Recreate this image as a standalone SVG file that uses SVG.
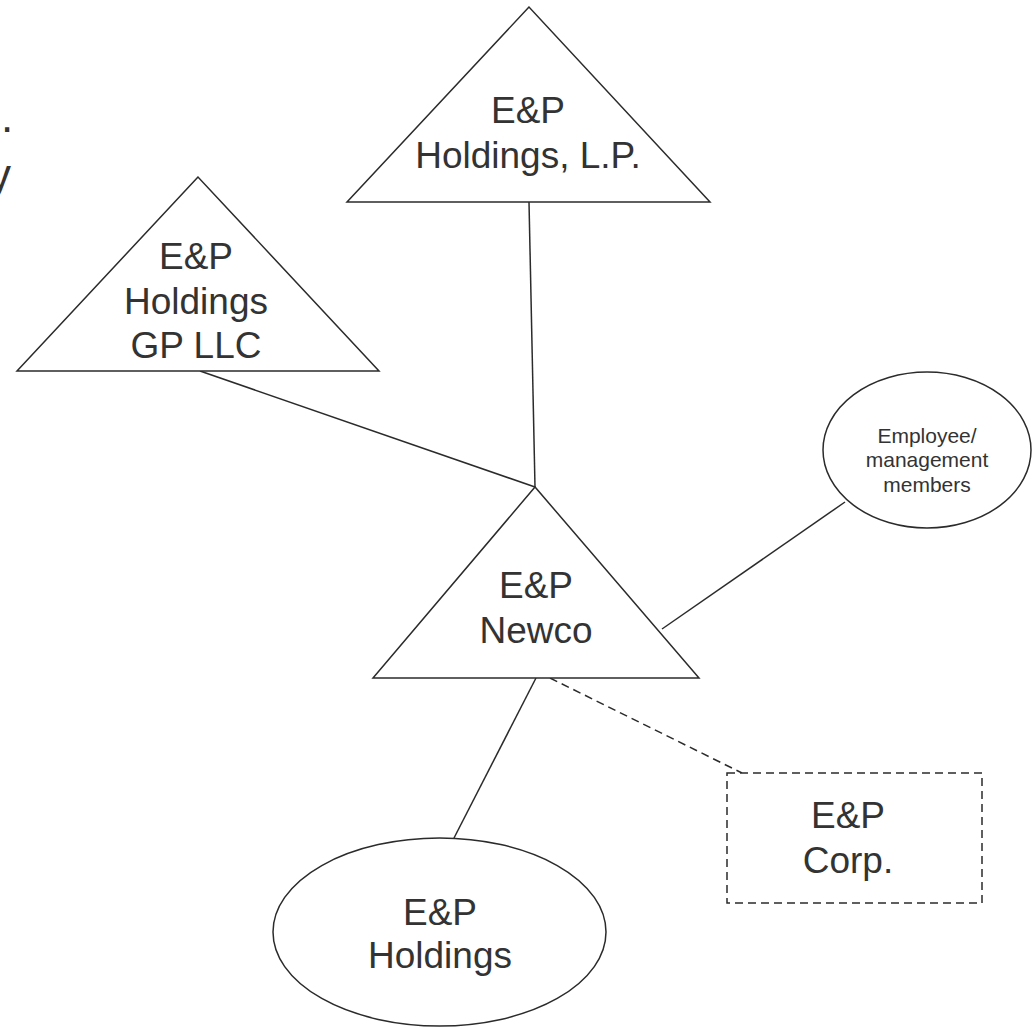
<svg xmlns="http://www.w3.org/2000/svg" width="1033" height="1028" viewBox="0 0 1033 1028">
  <style>
    .shape { fill: #ffffff; stroke: #2b2b2b; stroke-width: 1.5; }
    .dashed { stroke-dasharray: 8 5; }
    .link { fill: none; stroke: #2b2b2b; stroke-width: 1.5; }
    .label { font-family: "Liberation Sans", Arial, sans-serif; font-size: 37px; fill: #333333; text-anchor: middle; }
    .small { font-size: 21px; }
    .edge-text { font-family: "Liberation Sans", Arial, sans-serif; font-size: 44px; fill: #333333; }
  </style>
  <rect x="0" y="0" width="1033" height="1028" fill="#ffffff"/>

  <!-- title fragments running off the left edge -->
  <g id="title-fragment">
    <text class="edge-text" x="1" y="132">.</text>
    <text class="edge-text" x="11" y="190" text-anchor="end">y</text>
  </g>

  <!-- connectors -->
  <g id="connectors">
    <line class="link" x1="529" y1="202" x2="535" y2="487"/>
    <line class="link" x1="200" y1="371" x2="535" y2="487"/>
    <line class="link" x1="845" y1="502" x2="662" y2="629"/>
    <line class="link" x1="536" y1="678" x2="454" y2="838"/>
    <line class="link dashed" x1="550" y1="678" x2="742" y2="773"/>
  </g>

  <g id="node-holdings-lp">
    <polygon class="shape" points="529,7 347,202 710,202"/>
    <text class="label" x="528" y="123">E&amp;P</text>
    <text class="label" x="528" y="168">Holdings, L.P.</text>
  </g>

  <g id="node-holdings-gp">
    <polygon class="shape" points="198,177 17,371 379,371"/>
    <text class="label" x="196" y="269">E&amp;P</text>
    <text class="label" x="196" y="314">Holdings</text>
    <text class="label" x="196" y="358">GP LLC</text>
  </g>

  <g id="node-newco">
    <polygon class="shape" points="535,487 373,678 699,678"/>
    <text class="label" x="536" y="598">E&amp;P</text>
    <text class="label" x="536" y="643">Newco</text>
  </g>

  <g id="node-employees">
    <ellipse class="shape" cx="927" cy="450" rx="104" ry="78"/>
    <text class="label small" x="927" y="443">Employee/</text>
    <text class="label small" x="927" y="467">management</text>
    <text class="label small" x="927" y="492">members</text>
  </g>

  <g id="node-corp">
    <rect class="shape dashed" x="727" y="773" width="255" height="130"/>
    <text class="label" x="848" y="828">E&amp;P</text>
    <text class="label" x="848" y="873">Corp.</text>
  </g>

  <g id="node-holdings">
    <ellipse class="shape" cx="439.5" cy="932" rx="166.5" ry="94"/>
    <text class="label" x="440" y="925">E&amp;P</text>
    <text class="label" x="440" y="968">Holdings</text>
  </g>
</svg>
